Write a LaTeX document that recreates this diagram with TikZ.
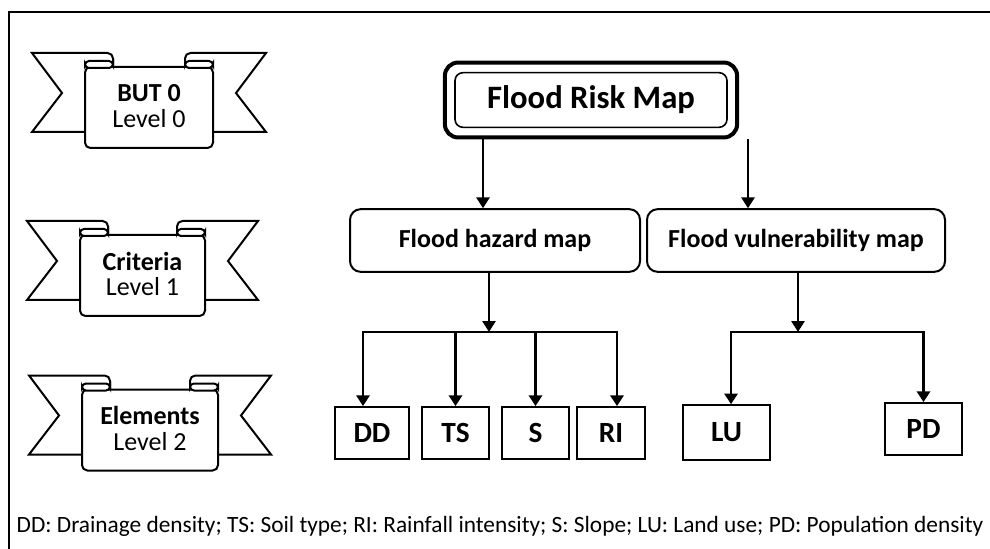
\documentclass[tikz,border=0pt]{standalone}
\usepackage{fontspec}
\setmainfont{Carlito}
\usetikzlibrary{arrows.meta,fit}

\tikzset{
  mapbox/.style={draw, line width=1.5pt, rounded corners=8pt, font=\fontsize{19.5}{22}\selectfont\bfseries, inner sep=0pt},
  factbox/.style={draw, line width=1.5pt, font=\fontsize{22}{25}\selectfont\bfseries, inner sep=0pt, minimum height=39pt},
  thinarrow/.style={-{Triangle[width=10pt,length=8pt]}, line width=0.8pt},
  busarrow/.style={-{Triangle[width=10pt,length=8pt]}, line width=1.8pt},
  busline/.style={{Triangle[width=10pt,length=8pt]}-{Triangle[width=10pt,length=8pt]}, line width=1.8pt},
  ribbonline/.style={fill=white, line width=1.5pt},
}

% ribbon banner: center x, center y, half width, name, title, level
\newcommand{\ribbon}[6]{%
  \begin{scope}[shift={(#1,#2)}]
    \def\rw{#3}
    \filldraw[ribbonline] ({-\rw+28},-38) [rounded corners=4pt] -- ({-\rw+28},-52) [sharp corners] -- ({-\rw-53},-52) -- ({-\rw-23},-12) -- ({-\rw-53},27) -- ({-\rw},27);
    \filldraw[ribbonline] ({\rw-28},-38) [rounded corners=4pt] -- ({\rw-28},-52) [sharp corners] -- ({\rw+53},-52) -- ({\rw+23},-12) -- ({\rw+53},27) -- ({\rw},27);
    \filldraw[ribbonline, rounded corners=4pt] ({-\rw},-38) rectangle ({\rw},43);
    \filldraw[ribbonline, rounded corners=3pt] ({-\rw},-37) rectangle ({-\rw+28},-44);
    \filldraw[ribbonline, rounded corners=3pt] ({\rw-28},-37) rectangle ({\rw},-44);
    \node[font=\fontsize{19.5}{22}\selectfont\bfseries] (#4t) at (0,-12) {#5};
    \node[font=\fontsize{19.5}{22}\selectfont] (#4l) at (0,14) {#6};
  \end{scope}}

\begin{document}
\begin{tikzpicture}[x=0.75pt, y=-0.75pt]
  \useasboundingbox (0,0) rectangle (990,549);
  \draw[line width=2.2pt] (9,549) -- (9,12) -- (990,12);

  % level banners
  \ribbon{149}{105}{64}{but}{BUT 0}{Level 0}
  \ribbon{142.5}{273}{62.5}{crit}{Criteria}{Level 1}
  \ribbon{150}{427.5}{68}{elem}{Elements}{Level 2}

  % maps
  \node[mapbox, line width=1.2pt, rounded corners=6pt, minimum width=204pt, minimum height=41pt, font=\fontsize{24.5}{28}\selectfont\bfseries] (risk) at (591,100) {Flood Risk Map};
  \node[fit=(risk), draw, line width=3pt, rounded corners=10pt, inner sep=7pt] (riskout) {};
  \node[mapbox, minimum width=217.5pt, minimum height=47pt] (hz) at (495,240.5) {Flood hazard map};
  \node[mapbox, minimum width=223.5pt, minimum height=47pt] (vul) at (796,240.5) {Flood vulnerability map};

  % factors
  \node[factbox, minimum width=55.5pt] (dd) at (372,433) {DD};
  \node[factbox, minimum width=50pt] (ts) at (455.5,433) {TS};
  \node[factbox, minimum width=50pt] (s) at (535.5,433) {S};
  \node[factbox, minimum width=51pt] (ri) at (611,433) {RI};
  \node[factbox, minimum width=65pt, minimum height=41pt] (lu) at (726.5,432.5) {LU};
  \node[factbox, minimum width=58pt] (pd) at (923.5,429) {PD};

  % connectors
  \draw[thinarrow] ([xshift=-9pt]hz.north |- riskout.south) -- ([xshift=-9pt]hz.north);
  \draw[thinarrow] ([xshift=-36pt]vul.north |- riskout.south) -- ([xshift=-36pt]vul.north);

  \coordinate (hzbus) at ([xshift=-4.5pt, yshift=-44.25pt]hz.south);
  \draw[thinarrow] ([xshift=-4.5pt]hz.south) -- (hzbus);
  \draw[busline] ([xshift=-6.75pt]dd.north) |- ([xshift=4.5pt]ri.north |- hzbus) -- ([xshift=4.5pt]ri.north);
  \foreach \f in {ts,s}
    \draw[busarrow] (\f.north |- hzbus) -- (\f.north);

  \coordinate (vulbus) at ([xshift=1.5pt, yshift=-44.25pt]vul.south);
  \draw[thinarrow] ([xshift=1.5pt]vul.south) -- (vulbus);
  \draw[busline] ([xshift=3.4pt]lu.north) |- (pd.north |- vulbus) -- (pd.north);

  \node[anchor=west, font=\fontsize{17.5}{20}\selectfont] (note) at (12,526) {DD: Drainage density; TS: Soil type; RI: Rainfall intensity; S: Slope; LU: Land use; PD: Population density};
\end{tikzpicture}
\end{document}
